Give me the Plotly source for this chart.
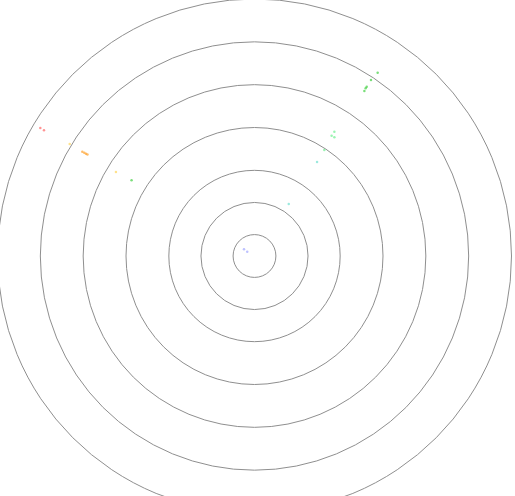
import plotly.graph_objects as go

# Ring radii (data units)
ring_radii = [1, 2.5, 4, 6, 8, 10, 12]

# Point groups (x, y in data units)
red_x = [-10.0, -9.83]
red_y = [5.98, 5.87]
orange_x = [-8.04, -7.95, -7.87, -7.80]
orange_y = [4.87, 4.82, 4.78, 4.74]
yellow_x = [-8.63, -6.47]
yellow_y = [5.23, 3.92]
green_x = [-5.74, 5.75, 5.44, 5.24, 5.19, 5.13]
green_y = [3.54, 8.56, 8.22, 7.90, 7.83, 7.70]
lightgreen_x = [3.73, 3.60, 3.73, 3.26]
lightgreen_y = [5.80, 5.62, 5.54, 4.95]
cyan_x = [2.92, 1.60]
cyan_y = [4.39, 2.43]
blue_x = [-0.49, -0.34]
blue_y = [0.31, 0.20]

groups = [
    (red_x, red_y, "#ff5a5a"),
    (orange_x, orange_y, "#ff9a1a"),
    (yellow_x, yellow_y, "#ffd24d"),
    (green_x, green_y, "#33cc33"),
    (lightgreen_x, lightgreen_y, "#66ee88"),
    (cyan_x, cyan_y, "#66ddcc"),
    (blue_x, blue_y, "#9aa0ff"),
]

fig = go.Figure()
for gx, gy, col in groups:
    fig.add_trace(go.Scatter(x=gx, y=gy, mode="markers",
                             marker=dict(size=2.5, color=col, opacity=0.65),
                             showlegend=False, hoverinfo="skip"))

for r in ring_radii:
    fig.add_shape(type="circle", xref="x", yref="y", x0=-r, y0=-r, x1=r, y1=r,
                  line=dict(color="#8f8f8f", width=1), layer="below")

px_per_unit = 257 / 12.0
cx, cy = 254.5, 256.0
W, H = 515, 496
fig.update_layout(
    width=W, height=H,
    margin=dict(l=0, r=0, t=0, b=0),
    paper_bgcolor="white", plot_bgcolor="white",
    xaxis=dict(range=[-cx / px_per_unit, (W - cx) / px_per_unit], visible=False,
               showgrid=False, zeroline=False),
    yaxis=dict(range=[-(H - cy) / px_per_unit, cy / px_per_unit], visible=False,
               showgrid=False, zeroline=False),
)
fig.write_html("out.html",
               config={"displayModeBar": False, "staticPlot": True},
               post_script="document.body.style.margin='0';document.body.style.overflow='hidden';")
